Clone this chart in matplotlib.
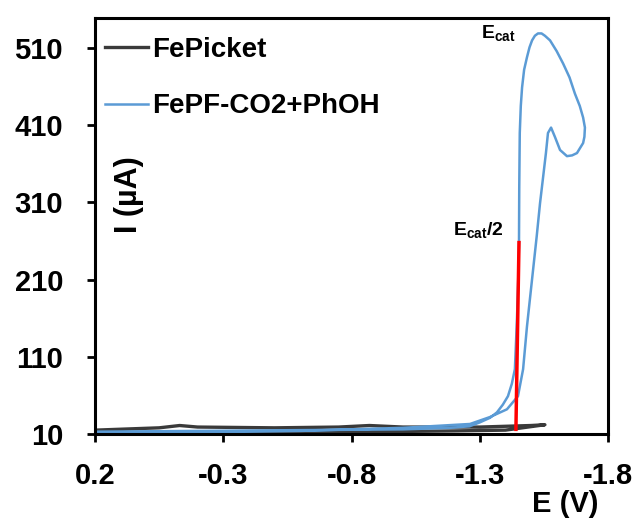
import matplotlib
matplotlib.use("Agg")
import matplotlib.pyplot as plt

# ---- data ----
E_fepicket = [0.2, -0.1, -0.5, -0.9, -1.2, -1.4, -1.554, -1.5, -1.3, -1.0, -0.87, -0.75,
              -0.5, -0.2, -0.13, -0.05, 0.2]
I_fepicket = [12, 12, 13, 13, 14, 15, 22, 21, 19, 19, 21, 19, 18, 19, 21, 18, 15]

E_fepf = [0.2, -0.2, -0.6, -1.0, -1.184, -1.26, -1.30, -1.34, -1.367, -1.39, -1.410, -1.425,
          -1.437, -1.445, -1.450, -1.453, -1.454, -1.456, -1.460, -1.465, -1.473, -1.484,
          -1.494, -1.504, -1.515, -1.527, -1.541, -1.554, -1.574, -1.60, -1.625, -1.65,
          -1.671, -1.690, -1.703, -1.710, -1.708, -1.703, -1.679, -1.660, -1.640, -1.613,
          -1.593, -1.578, -1.566, -1.558, -1.546, -1.535, -1.522, -1.508, -1.495, -1.484,
          -1.469, -1.449, -1.406, -1.340, -1.262, -1.0, -0.6, -0.2, 0.2]
I_fepf = [13, 14, 15, 16, 18, 20, 25, 31, 38, 48, 59, 75, 94, 158, 210, 258, 330, 400, 435,
          459, 482, 498, 511, 520, 526, 529, 529, 526, 520, 506, 490, 472, 451, 435, 420,
          407, 395, 387, 374, 371, 370, 378, 395, 407, 400, 374, 340, 309, 266, 223, 183,
          149, 94, 59, 42, 32, 23, 18, 14, 12, 11]

E_half = [-1.453, -1.441]
I_half = [258, 16]

x_ticks = [0.2, -0.3, -0.8, -1.3, -1.8]
x_ticklabels = ["0.2", "-0.3", "-0.8", "-1.3", "-1.8"]
y_ticks = [10, 110, 210, 310, 410, 510]
y_ticklabels = ["10", "110", "210", "310", "410", "510"]

labels = ["FePicket", "FePF-CO2+PhOH"]

# ---- style ----
plt.rcParams['font.family'] = ['Liberation Sans', 'DejaVu Sans']
plt.rcParams['font.weight'] = 'bold'
plt.rcParams['mathtext.fontset'] = 'custom'
plt.rcParams['mathtext.bf'] = 'Liberation Sans:bold'
plt.rcParams['mathtext.rm'] = 'Liberation Sans:bold'

fig = plt.figure(figsize=(6.4, 5.19), dpi=100)
ax = fig.add_axes([95/640, 1 - 434/519, 513/640, 416/519])

ax.plot(E_fepicket, I_fepicket, color='#3a3a3a', lw=2.4, label=labels[0])
ax.plot(E_fepf, I_fepf, color='#5b9bd5', lw=1.8, label=labels[1])
ax.plot(E_half, I_half, color='#ff0000', lw=2.5)

ax.set_xlim(0.2, -1.8)
ax.set_ylim(10, 549)
ax.set_xticks(x_ticks)
ax.set_xticklabels(x_ticklabels)
ax.set_yticks(y_ticks)
ax.set_yticklabels(y_ticklabels)

for sp in ax.spines.values():
    sp.set_linewidth(2.2)
    sp.set_color('black')

ax.tick_params(axis='both', which='major', direction='out', length=6, width=2,
               labelsize=21, colors='black')
ax.tick_params(axis='y', pad=17)
ax.tick_params(axis='x', pad=14)

ax.set_ylabel("I (\u00b5A)", fontsize=22, fontweight='bold')
ax.yaxis.set_label_coords(0.095, 0.575)
ax.set_xlabel("E (V)", fontsize=21, fontweight='bold')
ax.xaxis.set_label_coords(0.916, -0.135)

ax.text(-1.305, 523, r'$\mathbf{E_{cat}}$', fontsize=14, ha='left', va='baseline')
ax.text(-1.196, 268, r'$\mathbf{E_{cat}/2}$', fontsize=14, ha='left', va='baseline')

leg = ax.legend(loc='upper left', bbox_to_anchor=(0.02, 0.955), frameon=False,
                fontsize=20, handlelength=1.55, handletextpad=0.12, labelspacing=1.1,
                borderpad=0, borderaxespad=0)
for t in leg.get_texts():
    t.set_fontweight('bold')

fig.savefig("out.png", dpi=100)
